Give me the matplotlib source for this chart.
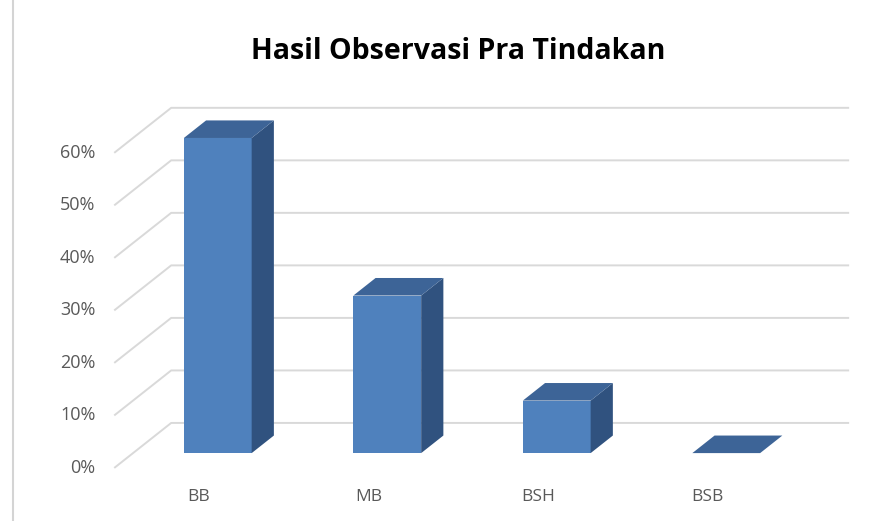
import matplotlib
matplotlib.use("Agg")
import matplotlib.pyplot as plt
from matplotlib.patches import Polygon

# data
categories = ["BB", "MB", "BSH", "BSB"]
values = [60, 30, 10, 0]          # percent
ticks = [0, 10, 20, 30, 40, 50, 60]

# oblique "3d" look like the excel chart
depth_dx = 0.336   # category units for full floor depth
depth_dy = 8.57    # percent units for full floor depth
bar_w = 0.40
d_front, d_back = 0.33, 0.72

front_col = "#4f81bd"
top_col = "#3d6497"
side_col = "#30527f"
grid_col = "#d9d9d9"
text_col = "#595959"

plt.rcParams["font.family"] = ["Open Sans", "DejaVu Sans"]

fig = plt.figure(figsize=(8.91, 5.21), dpi=100)
ax = fig.add_axes([0, 0, 1, 1])
ax.set_xlim(-1.174, 4.083)
ax.set_ylim(-10.1, 89.1)
ax.axis("off")


def proj(x, y, d):
    # move a point back into the depth of the chart
    return (x + d * depth_dx, y + d * depth_dy)


n = len(categories)
left = -0.5
right = n - 0.5

# side wall diagonals + back wall gridlines
for t in ticks:
    x0, y0 = proj(left, t, 0)
    x1, y1 = proj(left, t, 1)
    x2, y2 = proj(right, t, 1)
    ax.plot([x0, x1, x2], [y0, y1, y2], color=grid_col, lw=1.4,
            solid_capstyle="butt", zorder=1)
    ax.text(left - 0.11, t, f"{t}%", ha="right", va="center",
            fontsize=13, color=text_col)

# bars
for i, (cat, v) in enumerate(zip(categories, values)):
    xl = i - bar_w / 2
    xr = i + bar_w / 2
    fl_b = proj(xl, 0, d_front)
    fr_b = proj(xr, 0, d_front)
    fl_t = proj(xl, v, d_front)
    fr_t = proj(xr, v, d_front)
    bl_t = proj(xl, v, d_back)
    br_t = proj(xr, v, d_back)
    br_b = proj(xr, 0, d_back)
    if v > 0:
        ax.add_patch(Polygon([fl_b, fr_b, fr_t, fl_t], closed=True,
                             facecolor=front_col, edgecolor="none", zorder=3))
        ax.add_patch(Polygon([fr_b, br_b, br_t, fr_t], closed=True,
                             facecolor=side_col, edgecolor="none", zorder=3))
    ax.add_patch(Polygon([fl_t, fr_t, br_t, bl_t], closed=True,
                         facecolor=top_col, edgecolor="none", zorder=3))
    ax.text(i, -5.6, cat, ha="center", va="center", fontsize=12.5,
            color=text_col)

fig.text(0.5146, 0.902, "Hasil Observasi Pra Tindakan", ha="center",
         va="center", fontsize=20.5, fontweight="bold", color="#000000")

# page border line on the left
fig.add_artist(plt.Line2D([0.0146, 0.0146], [0, 1], color="#d4d4d4", lw=1.5))

fig.savefig("out.png", dpi=100)
